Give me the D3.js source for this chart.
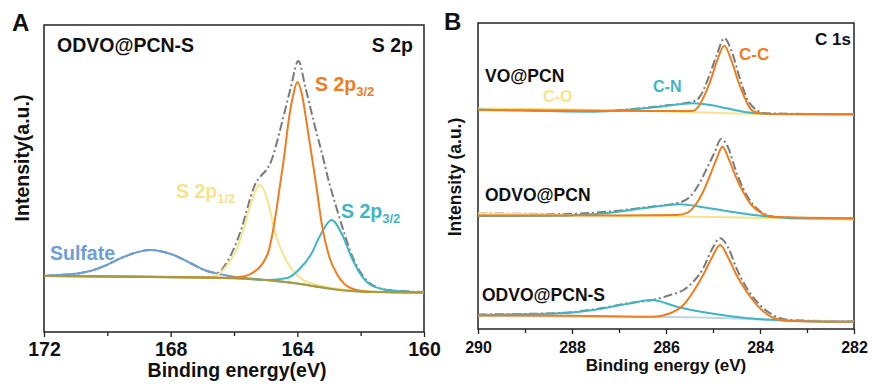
<!DOCTYPE html>
<html>
<head>
<meta charset="utf-8">
<script src="https://cdn.jsdelivr.net/npm/d3@7"></script>
<style>
  body { margin: 0; background: #fff; }
  svg text { font-family: "Liberation Sans", Arial, sans-serif; font-weight: bold; }
</style>
</head>
<body>
<svg id="chart" width="873" height="387"></svg>
<script>
// ---------- panel A : S 2p of ODVO@PCN-S ----------
const aMajorTicks = [172, 168, 164, 160];
const aMinorTicks = [170, 166, 162];

const aBaseline = [[172, 56], [169, 55.5], [167, 54.5], [166, 54], [165.5, 53], [165, 52], [164.5, 50.5],
  [164, 48.5], [163.5, 46], [163, 43.5], [162.5, 41.5], [162, 40.5], [161, 39.8], [160, 39.5]];
const aSulfate = [[172, 56], [171.6, 57], [171.07, 58], [170.54, 61], [170.02, 67], [169.49, 75], [168.65, 82],
  [167.91, 77], [167.38, 69], [166.85, 61], [166.43, 57.7], [166.02, 55.3], [165.5, 53.5], [165, 52],
  [164, 48.5], [163, 43.5], [162, 40.5], [160, 39.5]];
const aS2p12 = [[172, 56], [168, 55.5], [166.8, 55], [166.53, 57], [166.22, 67], [165.9, 84], [165.69, 104],
  [165.48, 127], [165.19, 147], [164.9, 127], [164.74, 104], [164.53, 84], [164.27, 67], [163.9, 54],
  [163.37, 47], [162, 41], [160, 39.5]];
const aS2p32 = [[172, 56], [167, 54.5], [166.2, 54.3], [165.8, 55], [165.48, 58], [164.95, 77], [164.72, 110],
  [164.56, 144], [164.41, 177], [164.28, 210], [164.13, 237], [164.0, 250], [163.85, 237], [163.71, 210],
  [163.55, 177], [163.39, 144], [163.24, 110], [163.01, 77], [162.73, 57], [162.32, 44], [161.68, 40],
  [160, 39.5]];
const aS2p32b = [[172, 56], [167, 54.5], [165.5, 53], [164.95, 52], [164.32, 54], [163.9, 64], [163.58, 77],
  [163.27, 97], [162.92, 112], [162.58, 97], [162.32, 77], [162.05, 60], [161.68, 47], [161.15, 42],
  [160, 39.5]];
const aEnvelope = [[172, 56], [171.6, 57], [171.07, 58], [170.54, 61], [170.02, 67], [169.49, 75],
  [168.65, 82], [167.91, 77], [167.38, 69], [166.85, 61], [166.53, 59], [166.22, 70], [165.8, 100],
  [165.38, 144], [164.79, 174], [164.48, 210], [164.21, 244], [163.97, 271], [163.74, 244], [163.48, 210],
  [163.21, 177], [163.0, 150], [162.79, 127], [162.53, 100], [162.32, 80], [162.05, 62], [161.68, 48],
  [161.15, 42], [160, 40]];

// ---------- panel B : C 1s of three samples ----------
const bMajorTicks = [290, 288, 286, 284, 282];
const bMinorTicks = [289, 287, 285, 283];
const bSamples = ["VO@PCN", "ODVO@PCN", "ODVO@PCN-S"];

const voCO = [[290, 220.5], [288, 219.5], [286, 217.5], [285, 216.2], [284, 215], [282, 214.3]];
const voCN = [[290, 219.5], [287.55, 217.3], [286.84, 219], [286.13, 222.3], [285.42, 225.7], [285.06, 224],
  [284.71, 220.7], [284.36, 217.3], [284.0, 215.7], [283.72, 215], [282, 214.7]];
const voCC = [[290, 219], [288, 218.5], [286.5, 218], [285.45, 218], [285.31, 222.3], [285.21, 230.7],
  [285.06, 247.3], [284.92, 267.3], [284.76, 283.3], [284.6, 267.3], [284.46, 247.3], [284.32, 230.7],
  [284.18, 219], [284.0, 215.7], [283.5, 215], [282, 214.7]];
const voEnv = [[290, 220], [287.55, 218], [286.84, 219.5], [286.13, 223], [285.42, 227.5], [285.28, 232.3],
  [285.1, 250.7], [284.92, 274], [284.76, 290.7], [284.6, 277.3], [284.43, 250.7], [284.28, 230.7],
  [284.07, 219], [283.86, 215.7], [282, 214.7]];

const odCO = [[290, 115.7], [288, 114], [286.5, 113], [285, 112], [284, 111], [282, 109.5]];
const odCN = [[290, 113], [288.26, 113.3], [287.9, 114], [287.19, 116.3], [286.48, 120.7], [285.7, 124.7],
  [285.28, 122.3], [284.71, 118], [284.14, 114], [283.64, 111.7], [283.3, 110.7], [282, 110.5]];
const odCC = [[290, 113.5], [287, 113.5], [285.77, 114], [285.53, 116.7], [285.35, 125.7], [285.21, 137.3],
  [285.06, 154], [284.92, 170.7], [284.8, 182.3], [284.67, 170.7], [284.53, 154], [284.36, 137.3],
  [284.18, 124], [283.96, 115.7], [283.72, 112.3], [282, 110.7]];
const odEnv = [[290, 115.7], [288.26, 115], [287.19, 117.5], [286.48, 121.5], [285.7, 126.7], [285.49, 132.3],
  [285.31, 144], [285.13, 160.7], [284.96, 177.3], [284.83, 190], [284.67, 180.7], [284.53, 160.7],
  [284.36, 140.7], [284.14, 124], [283.89, 114.7], [283.57, 111.3], [282, 110.5]];

const odsBase = [[290, 13], [286, 12], [284.5, 10.5], [283.5, 8.5], [282, 7.5]];
const odsCN = [[290, 14], [288.26, 15.7], [287.55, 19], [286.84, 25], [286.3, 29], [285.77, 22.3],
  [285.06, 15.7], [284.36, 11.3], [283.64, 9], [282.58, 7.3], [282, 7.5]];
const odsCC = [[290, 13.5], [288, 13.3], [286.27, 12.3], [285.91, 15.7], [285.63, 24], [285.42, 37.3],
  [285.21, 54], [285.03, 70.7], [284.85, 84], [284.67, 70.7], [284.5, 54], [284.28, 37.3], [284.0, 20.7],
  [283.72, 11.3], [283.36, 8], [282, 7.3]];
const odsEnv = [[290, 14.5], [288.26, 16], [287.55, 19.5], [286.84, 25.5], [286.2, 30], [285.91, 34],
  [285.63, 39], [285.42, 47.3], [285.21, 60.7], [285.03, 79], [284.85, 90.7], [284.67, 80.7], [284.5, 60.7],
  [284.28, 40.7], [284.0, 24], [283.72, 14], [283.36, 9], [282, 7.5]];

const ORANGE = "#ef7d1f", CYAN = "#3fb5c5", YELLOW = "#f6e38c", BLUE = "#6b9fd5",
      GRAY = "#7a7a7a", OLIVE = "#a99b3a", PALE = "#bcd6e3";

const svg = d3.select("#chart");

function panel(o) {
  const x = d3.scaleLinear().domain(o.xDomain).range([o.left, o.right]);
  const y = d3.scaleLinear().domain(o.yDomain).range([o.bottom, o.top]);
  const g = svg.append("g");

  g.append("g").attr("transform", `translate(0,${o.bottom})`)
    .call(d3.axisBottom(x).tickValues(o.major).tickSize(5).tickFormat(d3.format("d")))
    .call(a => a.select(".domain").remove())
    .call(a => a.selectAll("line").attr("stroke", "#222").attr("stroke-width", 1.3))
    .call(a => a.selectAll("text").attr("fill", "#111").attr("font-size", o.tickFont)
      .attr("font-family", null).attr("dy", null).attr("y", o.tickY));
  g.append("g").attr("transform", `translate(0,${o.bottom})`)
    .call(d3.axisBottom(x).tickValues(o.minor).tickSize(4).tickFormat(""))
    .call(a => a.select(".domain").remove())
    .call(a => a.selectAll("line").attr("stroke", "#222").attr("stroke-width", 1.3));

  g.append("rect").attr("x", o.left).attr("y", o.top)
    .attr("width", o.right - o.left).attr("height", o.bottom - o.top)
    .attr("fill", "none").attr("stroke", "#222").attr("stroke-width", 1.5);

  const line = d3.line().x(d => x(d[0])).y(d => y(d[1])).curve(d3.curveMonotoneX);
  o.curves.forEach(c => {
    g.append("path").datum(c.data).attr("d", line).attr("fill", "none")
      .attr("stroke", c.color).attr("stroke-width", c.w || 2)
      .attr("stroke-dasharray", c.dash || null).attr("stroke-linejoin", "round");
  });
  return g;
}

function label(g, t, xx, yy, size, color, anchor, sub, subSize, subDy) {
  const tx = g.append("text").attr("x", xx).attr("y", yy).attr("font-size", size)
    .attr("fill", color).attr("text-anchor", anchor || "start").text(t);
  if (sub) tx.append("tspan").attr("font-size", subSize).attr("dy", subDy).text(sub);
  return tx;
}

// panel A
const gA = panel({
  xDomain: [172, 160], yDomain: [0, 307], left: 44, right: 424, top: 25, bottom: 332,
  major: aMajorTicks, minor: aMinorTicks, tickFont: 19.5, tickY: 24,
  curves: [
    { data: aEnvelope, color: GRAY, dash: "9,3,2,3" },
    { data: aSulfate, color: BLUE },
    { data: aS2p12, color: YELLOW },
    { data: aS2p32b, color: CYAN },
    { data: aS2p32, color: ORANGE },
    { data: aBaseline, color: OLIVE }
  ]
});
label(gA, "A", 12, 31, 24, "#111");
label(gA, "ODVO@PCN-S", 57, 52, 19.5, "#111");
label(gA, "S 2p", 413, 52, 19.5, "#111", "end");
label(gA, "S 2p", 315, 91, 19.5, ORANGE, "start", "3/2", 13, 5);
label(gA, "S 2p", 176, 198, 19.5, YELLOW, "start", "1/2", 13, 5);
label(gA, "S 2p", 341, 218, 19.5, CYAN, "start", "3/2", 13, 5);
label(gA, "Sulfate", 50, 260, 19.5, BLUE);
label(gA, "Binding energy(eV)", 237, 377, 19.5, "#111", "middle");
gA.append("text").attr("transform", "translate(29,158) rotate(-90)").attr("text-anchor", "middle")
  .attr("font-size", 19.5).attr("fill", "#111").text("Intensity(a.u.)");

// panel B
const gB = panel({
  xDomain: [290, 282], yDomain: [0, 306], left: 478, right: 854, top: 23, bottom: 329,
  major: bMajorTicks, minor: bMinorTicks, tickFont: 16, tickY: 23.5,
  curves: [
    { data: voEnv, color: GRAY, dash: "9,3,2,3" },
    { data: voCO, color: YELLOW },
    { data: voCN, color: CYAN },
    { data: voCC, color: ORANGE },
    { data: odEnv, color: GRAY, dash: "9,3,2,3" },
    { data: odCO, color: YELLOW },
    { data: odCN, color: CYAN },
    { data: odCC, color: ORANGE },
    { data: odsEnv, color: GRAY, dash: "9,3,2,3" },
    { data: odsBase, color: PALE },
    { data: odsCN, color: CYAN },
    { data: odsCC, color: ORANGE }
  ]
});
label(gB, "B", 444, 30, 24, "#111");
label(gB, "C 1s", 851, 45, 17, "#111", "end");
label(gB, bSamples[0], 485, 82, 17.5, "#111");
label(gB, bSamples[1], 485, 201, 17.5, "#111");
label(gB, bSamples[2], 482, 301, 17.5, "#111");
label(gB, "C-O", 543, 102, 16, YELLOW);
label(gB, "C-N", 653, 92, 16, CYAN);
label(gB, "C-C", 739, 60, 17, ORANGE);
label(gB, "Binding energy (eV)", 666, 371, 17, "#111", "middle");
gB.append("text").attr("transform", "translate(461,177) rotate(-90)").attr("text-anchor", "middle")
  .attr("font-size", 17.5).attr("fill", "#111").text("Intensity (a.u.)");
</script>
</body>
</html>
